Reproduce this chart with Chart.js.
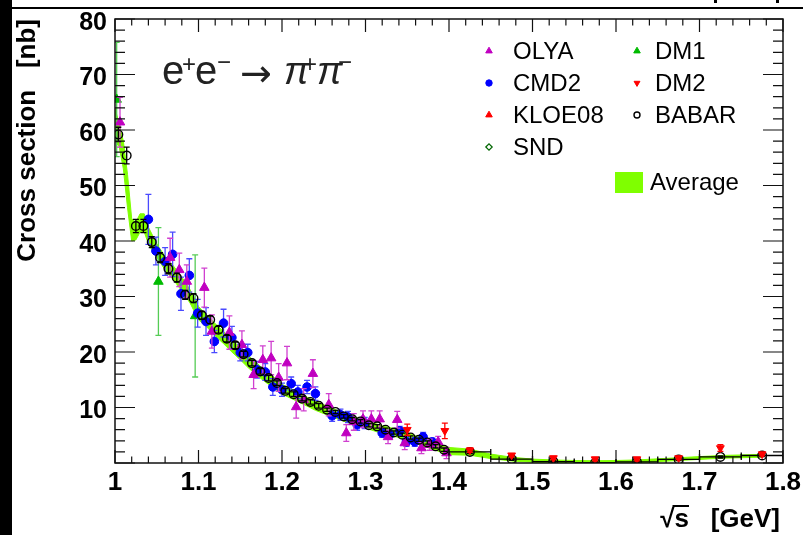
<!DOCTYPE html>
<html><head><meta charset="utf-8">
<script src="https://cdn.jsdelivr.net/npm/chart.js@4/dist/chart.umd.min.js"></script>
<style>html,body{margin:0;padding:0;background:#fff;overflow:hidden}</style>
</head><body>
<canvas id="c" width="803" height="535"></canvas>
<script>
// ---- axis ticks ----
const xTickValues = [1.0, 1.1, 1.2, 1.3, 1.4, 1.5, 1.6, 1.7, 1.8];
const xTickLabels = ['1', '1.1', '1.2', '1.3', '1.4', '1.5', '1.6', '1.7', '1.8'];
const yTickValues = [0, 10, 20, 30, 40, 50, 60, 70, 80];
const yTickLabels = ['', '10', '20', '30', '40', '50', '60', '70', '80'];

// ---- Average band ----
const avgX    = [1.000,1.005,1.010,1.015,1.020,1.025,1.030,1.035,1.040,1.050,1.060,1.070,1.080,1.090,1.100,1.110,1.120,1.130,1.140,1.150,1.160,1.170,1.180,1.190,1.200,1.220,1.240,1.260,1.280,1.300,1.320,1.340,1.360,1.380,1.400,1.425,1.450,1.475,1.500,1.525,1.550,1.575,1.600,1.625,1.650,1.675,1.700,1.725,1.750,1.775];
const avgLow  = [58,57,53,46,40,40.2,41.6,41.6,39.5,37,34.8,33,31,28.8,25.8,24.5,22.9,21.5,20,18.6,17.1,15.8,14.6,13.5,12.4,11,9.5,8.3,7.2,6.3,5.3,4.6,3.5,2.5,1.5,1.4,0.8,0.35,0.15,0.0,0.0,0.0,0.0,0.05,0.25,0.45,0.65,0.85,0.95,1.05];
const avgHigh = [64,61,58,52,44,43.4,44.9,44.9,42.5,39.5,37.2,35.5,33.5,31.2,28.2,26.7,25.1,23.7,22.2,20.8,19.3,18,16.6,15.5,14.2,12.6,11.1,9.9,8.6,7.7,6.7,6,4.9,3.9,2.8,2.5,1.6,1.05,0.7,0.55,0.45,0.4,0.45,0.55,0.75,0.95,1.15,1.35,1.45,1.55];

// ---- OLYA ----
const olyaX   = [1.006,1.066,1.077,1.086,1.107,1.116,1.137,1.152,1.166,1.177,1.187,1.196,1.206,1.217,1.226,1.237,1.256,1.277,1.286,1.297,1.307,1.317,1.327,1.338,1.347,1.367,1.377,1.387,1.397];
const olyaY   = [61.4,37.0,34.8,32.7,31.6,23.7,23.5,21.3,15.9,18.6,18.9,15.4,18.0,10.1,11.4,16.1,10.5,5.4,7.4,7.9,7.9,7.9,4.7,7.8,3.6,2.7,3.3,3.8,1.8];
const olyaErr = [4.5,3.5,3.0,3.0,3.5,3.0,3.0,2.5,2.5,2.5,3.0,2.5,3.0,2.0,2.0,2.5,2.0,1.5,1.5,1.5,1.5,1.5,1.2,1.5,1.2,1.0,1.0,1.0,1.0];

// ---- CMD2 ----
const cmd2X   = [1.040,1.049,1.060,1.069,1.079,1.089,1.099,1.109,1.119,1.130,1.140,1.150,1.159,1.170,1.180,1.189,1.200,1.211,1.219,1.230,1.240,1.260,1.270,1.279,1.290,1.299,1.320,1.329,1.341,1.349,1.359,1.369,1.380];
const cmd2Y   = [43.9,38.2,36.3,37.6,30.5,33.8,27.0,25.5,21.9,25.2,22.6,19.9,19.9,16.8,16.4,13.7,13.2,14.3,12.8,13.7,12.5,8.5,8.7,8.3,6.9,7.2,5.4,5.1,5.8,3.8,3.8,4.7,3.8];
const cmd2Err = [4.5,2.5,2.5,4.0,3.0,3.0,2.5,2.5,2.0,2.5,2.0,1.5,1.5,1.5,1.5,1.5,1.2,1.2,1.2,1.2,1.2,1.0,1.0,1.0,1.0,1.0,0.8,0.8,0.8,0.8,0.8,0.8,0.7];

// ---- KLOE08 / SND (no points in this energy range) ----
const kloeX = [], kloeY = [], kloeErr = [];
const sndX = [], sndY = [], sndErr = [];

// ---- DM1 ----
const dm1X   = [1.002, 1.052, 1.096];
const dm1Y   = [65.5, 32.7, 26.5];
const dm1Err = [10.3, 9.7, 11.0];

// ---- DM2 ----
const dm2X   = [1.350,1.395,1.425,1.475,1.525,1.575,1.625,1.675,1.725,1.775];
const dm2Y   = [6.0,5.8,2.3,1.4,0.9,0.7,0.7,0.9,2.7,1.6];
const dm2Err = [1.0,1.4,0.4,0.3,0.3,0.3,0.3,0.3,0.6,0.3];

// ---- BABAR ----
const babarX    = [1.004,1.014,1.025,1.034,1.044,1.054,1.064,1.074,1.084,1.094,1.104,1.114,1.124,1.134,1.144,1.154,1.164,1.174,1.184,1.194,1.204,1.214,1.224,1.234,1.244,1.254,1.264,1.274,1.284,1.294,1.304,1.314,1.324,1.334,1.344,1.354,1.364,1.374,1.384,1.394,1.425,1.475,1.525,1.575,1.625,1.675,1.725,1.775];
const babarY    = [59.2,55.4,42.7,42.7,39.8,37.0,35.0,33.4,30.3,29.7,26.6,25.8,24.0,22.4,21.2,19.6,18.0,16.5,15.3,14.4,13.0,12.4,11.6,11.0,10.3,9.6,9.2,8.4,7.9,7.5,6.8,6.6,6.0,5.5,5.1,4.6,4.2,3.7,3.0,2.4,2.0,0.7,0.25,0.05,0.2,0.65,1.1,1.35];
const babarErr  = [1.3,1.5,1.2,1.2,1.0,0.9,0.9,0.8,0.8,0.8,0.7,0.7,0.6,0.6,0.6,0.5,0.5,0.5,0.5,0.4,0.4,0.4,0.4,0.4,0.4,0.3,0.3,0.3,0.3,0.3,0.3,0.3,0.3,0.3,0.3,0.3,0.3,0.3,0.3,0.3,0.3,0.2,0.2,0.2,0.2,0.2,0.2,0.2];
const babarXErr = [0,0,0,0,0,0,0,0,0,0,0,0,0,0,0,0,0,0,0,0,0,0,0,0,0,0,0,0,0,0,0,0,0,0,0,0,0,0,0,0,0.025,0.025,0.025,0.025,0.025,0.025,0.025,0.025];

const LIME = '#7fff00';
const FONT = "'Liberation Sans', Arial, Helvetica, sans-serif";

function pts(xs, ys) { return xs.map((x, i) => ({ x: x, y: ys[i] })); }

const datasets = [
  { label: 'AvgHigh', type: 'line', data: pts(avgX, avgHigh), borderColor: LIME, borderWidth: 1, backgroundColor: LIME,
    pointRadius: 0, fill: '+1', tension: 0, order: 10 },
  { label: 'AvgLow', type: 'line', data: pts(avgX, avgLow), borderColor: LIME, borderWidth: 1,
    pointRadius: 0, fill: false, tension: 0, order: 10 },
  { label: 'DM1', data: pts(dm1X, dm1Y), yErr: dm1Err, errColor: '#55cc55', pointStyle: 'triangle', pointRadius: 5.5, legendRadius: 3.8,
    backgroundColor: '#00bb00', borderColor: '#00bb00', borderWidth: 1, order: 5 },
  { label: 'CMD2', data: pts(cmd2X, cmd2Y), yErr: cmd2Err, errColor: '#4a4aff', pointStyle: 'circle', pointRadius: 4.3, legendRadius: 3.2,
    backgroundColor: '#0000ff', borderColor: '#0000ff', borderWidth: 1, order: 4 },
  { label: 'OLYA', data: pts(olyaX, olyaY), yErr: olyaErr, errColor: '#d040d0', pointStyle: 'triangle', pointRadius: 5.5, legendRadius: 3.8,
    backgroundColor: '#c000c0', borderColor: '#c000c0', borderWidth: 1, order: 3 },
  { label: 'KLOE08', data: pts(kloeX, kloeY), yErr: kloeErr, errColor: '#ff0000', pointStyle: 'triangle', pointRadius: 5.5, legendRadius: 3.8,
    backgroundColor: '#ff0000', borderColor: '#ff0000', borderWidth: 1, order: 3 },
  { label: 'SND', data: pts(sndX, sndY), yErr: sndErr, errColor: '#006600', pointStyle: 'rectRot', pointRadius: 4, legendRadius: 3.2,
    backgroundColor: 'rgba(0,0,0,0)', borderColor: '#006600', borderWidth: 1.2, order: 3 },
  { label: 'BABAR', data: pts(babarX, babarY), yErr: babarErr, xErr: babarXErr, errColor: '#000000', pointStyle: 'circle', pointRadius: 4.3, legendRadius: 3,
    backgroundColor: 'rgba(0,0,0,0)', borderColor: '#000000', borderWidth: 1.4, order: 2 },
  { label: 'DM2', data: pts(dm2X, dm2Y), yErr: dm2Err, errColor: '#ff0000', pointStyle: 'triangle', rotation: 180, pointRadius: 4.5, legendRadius: 3.4,
    backgroundColor: '#ff0000', borderColor: '#ff0000', borderWidth: 1, order: 1 }
];

// error bars, drawn just before each dataset's markers
const errBars = {
  id: 'errBars',
  beforeDatasetDraw(chart, args) {
    const ds = chart.data.datasets[args.index];
    if (!ds.yErr) return;
    const c = chart.ctx, xs = chart.scales.x, ys = chart.scales.y, a = chart.chartArea;
    c.save();
    c.beginPath(); c.rect(a.left, a.top, a.right - a.left, a.bottom - a.top); c.clip();
    c.strokeStyle = ds.errColor; c.lineWidth = 1.3;
    ds.data.forEach((p, i) => {
      const px = xs.getPixelForValue(p.x);
      const e = ds.yErr[i] || 0;
      const y1 = ys.getPixelForValue(p.y + e), y2 = ys.getPixelForValue(p.y - e);
      c.beginPath();
      c.moveTo(px, y1); c.lineTo(px, y2);
      c.moveTo(px - 3, y1); c.lineTo(px + 3, y1);
      c.moveTo(px - 3, y2); c.lineTo(px + 3, y2);
      const xe = ds.xErr ? ds.xErr[i] : 0;
      if (xe) {
        const py = ys.getPixelForValue(p.y);
        const x1 = xs.getPixelForValue(p.x - xe), x2 = xs.getPixelForValue(p.x + xe);
        c.moveTo(x1, py); c.lineTo(x2, py);
        c.moveTo(x1, py - 3); c.lineTo(x1, py + 3);
        c.moveTo(x2, py - 3); c.lineTo(x2, py + 3);
      }
      c.stroke();
    });
    c.restore();
  }
};

const deco = {
  id: 'deco',
  beforeDraw(chart) {
    const c = chart.ctx;
    c.save(); c.fillStyle = '#fff'; c.fillRect(0, 0, chart.width, chart.height); c.restore();
  },
  afterDraw(chart) {
    const c = chart.ctx, xs = chart.scales.x, ys = chart.scales.y, a = chart.chartArea;
    c.save();
    // frame
    c.strokeStyle = '#111'; c.lineWidth = 1.5;
    c.strokeRect(a.left, a.top, a.right - a.left, a.bottom - a.top);
    // ticks (inside, mirrored)
    c.lineWidth = 1.2;
    c.beginPath();
    for (let i = 0; i <= 40; i++) {
      const px = xs.getPixelForValue(1 + i * 0.02);
      const L = (i % 5 === 0) ? 13 : 6.5;
      c.moveTo(px, a.bottom); c.lineTo(px, a.bottom - L);
      c.moveTo(px, a.top); c.lineTo(px, a.top + L);
    }
    for (let i = 0; i <= 40; i++) {
      const py = ys.getPixelForValue(i * 2);
      const L = (i % 5 === 0) ? 20 : 10;
      c.moveTo(a.left, py); c.lineTo(a.left + L, py);
      c.moveTo(a.right, py); c.lineTo(a.right - L, py);
    }
    c.stroke();

    // axis titles
    c.fillStyle = '#000';
    c.font = 'bold 26px ' + FONT;
    c.save();
    c.translate(28, 19); c.rotate(-Math.PI / 2);
    c.textAlign = 'right'; c.textBaseline = 'middle';
    c.fillText('Cross section   [nb]', 0, 0);
    c.restore();
    const xt = '\u221As   [GeV]';
    c.textAlign = 'left'; c.textBaseline = 'alphabetic';
    const wAll = c.measureText(xt).width;
    const x0 = 780 - wAll;
    c.fillText(xt, x0, 527);
    const wRoot = c.measureText('\u221A').width, wRs = c.measureText('\u221As').width;
    c.fillRect(x0 + wRoot - 2, 505, wRs - wRoot + 2, 2);

    // reaction label
    c.textAlign = 'left'; c.textBaseline = 'alphabetic';
    c.fillStyle = '#222';
    c.font = '40px ' + FONT;
    c.fillText('e', 162, 84);
    c.fillText('e', 195, 84);
    c.font = '24px ' + FONT;
    c.fillText('+', 182, 72);
    c.fillText('\u2212', 217, 70);
    c.fillText('+', 303, 72);
    c.fillText('\u2212', 338, 70);
    c.font = "38px 'DejaVu Sans', sans-serif";
    c.fillText('\u2192', 240, 86);
    c.font = 'italic 38px ' + FONT;
    c.fillText('\u03C0', 284, 84);
    c.fillText('\u03C0', 317, 84);

    // legend
    const leg = [
      ['OLYA', 489, 513, 51], ['CMD2', 489, 513, 83], ['KLOE08', 489, 513, 115], ['SND', 489, 513, 147],
      ['DM1', 637, 655, 51], ['DM2', 637, 655, 83], ['BABAR', 637, 655, 115]
    ];
    c.font = '24px ' + FONT;
    c.textBaseline = 'middle';
    leg.forEach(([name, mx, tx, y]) => {
      const ds = chart.data.datasets.find(d => d.label === name);
      c.save();
      c.fillStyle = ds.backgroundColor; c.strokeStyle = ds.borderColor; c.lineWidth = ds.borderWidth;
      Chart.helpers.drawPoint(c, { pointStyle: ds.pointStyle, radius: ds.legendRadius, rotation: ds.rotation || 0, borderWidth: ds.borderWidth }, mx, y);
      c.restore();
      c.fillStyle = '#000';
      c.fillText(name, tx, y + 1);
    });
    c.fillStyle = LIME;
    c.fillRect(615, 172, 28, 21);
    c.fillStyle = '#000';
    c.fillText('Average', 650, 183);

    // page bits (left black band, top rule, fragments above)
    c.fillStyle = '#000';
    c.fillRect(0, 0, 12, 535);
    c.fillRect(12, 7, 791, 2);
    c.fillRect(714, 0, 3, 3);
    c.fillRect(776, 0, 3, 3);
    c.restore();
  }
};

new Chart(document.getElementById('c'), {
  type: 'scatter',
  data: { datasets: datasets },
  options: {
    responsive: false, animation: false, devicePixelRatio: 1, events: [],
    layout: { padding: { top: 19, right: 20, left: 0, bottom: 0 } },
    plugins: { legend: { display: false }, tooltip: { enabled: false } },
    scales: {
      x: {
        type: 'linear', min: 1.0, max: 1.8,
        grid: { display: false, drawTicks: false }, border: { display: false },
        afterBuildTicks: s => { s.ticks = xTickValues.map(v => ({ value: v })); },
        afterFit: s => { s.height = 72; s.paddingLeft = 0; s.paddingRight = 0; },
        ticks: { padding: 4, color: '#000', font: { family: FONT, size: 26, weight: 'bold' }, maxRotation: 0,
          callback: (v, i) => xTickLabels[i] }
      },
      y: {
        type: 'linear', min: 0, max: 80,
        grid: { display: false, drawTicks: false }, border: { display: false },
        afterBuildTicks: s => { s.ticks = yTickValues.map(v => ({ value: v })); },
        afterFit: s => { s.width = 115; s.paddingTop = 0; s.paddingBottom = 0; },
        ticks: { padding: 8, labelOffset: 4, color: '#000', font: { family: FONT, size: 25, weight: 'bold' },
          callback: (v, i) => yTickLabels[i] }
      }
    }
  },
  plugins: [errBars, deco]
});
</script>
</body></html>
